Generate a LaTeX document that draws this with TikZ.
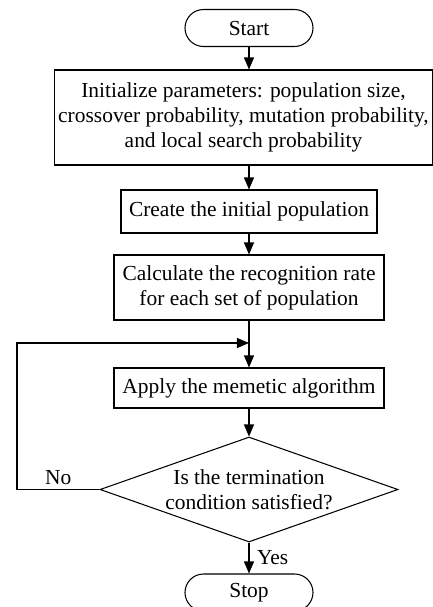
\documentclass[tikz,border=0pt]{standalone}
\usepackage{fontspec}
\setmainfont{Liberation Serif}
\usepackage{tikz}
\usetikzlibrary{shapes,arrows.meta,positioning,calc}
\tikzstyle{term} = [rectangle, rounded corners=0.37cm, minimum width=2.56cm, minimum height=0.74cm, draw=black, align=center]
\tikzstyle{block} = [rectangle, draw=black, align=center, inner sep=2pt]
\tikzstyle{decide} = [diamond, draw=black, align=center, aspect=2.84, inner sep=0pt, minimum width=5.96cm, minimum height=2.1cm]
\tikzstyle{arrow} = [semithick, -{Triangle[length=2.4mm,width=2mm]}]

\begin{document}
\begin{tikzpicture}[font=\fontsize{12.2}{14.4}\selectfont, line width=0.6pt]
                \useasboundingbox (0,0) rectangle (8.66,-12.14);
                \node[term] (start) at (4.98, -0.56) {Start};
                \node[block, minimum width=7.54cm, minimum height=1.9cm] (init) at (4.87, -2.35) {Initialize parameters: population size,\\ crossover probability, mutation probability,\\ and local search probability};
                \node[block, minimum width=5.12cm, minimum height=0.86cm] (create) at (4.98, -4.23) {Create the initial population};
                \node[block, minimum width=5.4cm, minimum height=1.3cm] (calc) at (4.98, -5.75) {Calculate the recognition rate\\ for each set of population};
                \coordinate (join) at (4.98, -6.86);
                \node[block, minimum width=5.4cm, minimum height=0.8cm] (apply) at (4.98, -7.76) {Apply the memetic algorithm};
                \node[decide] (cond) at (4.98, -9.79) {Is the termination\\ condition satisfied?};
                \node[term] (stop) at (4.98, -11.85) {Stop};
                
                \draw[arrow] (start) -- (start |- init.north);
                \draw[arrow] (create |- init.south) -- (create);
                \draw[arrow] (create) -- (calc);
                \draw[arrow] (calc) -- (apply);
                \draw[arrow] (apply) -- (cond);
                \draw[arrow] (cond) -- node[right, xshift=1pt] (yes) {Yes} (stop);
                \draw[arrow] (cond.west) -- node[above, yshift=-1pt] (no) {No} (0.34, -9.79) |- (join);
            \end{tikzpicture}
\end{document}
